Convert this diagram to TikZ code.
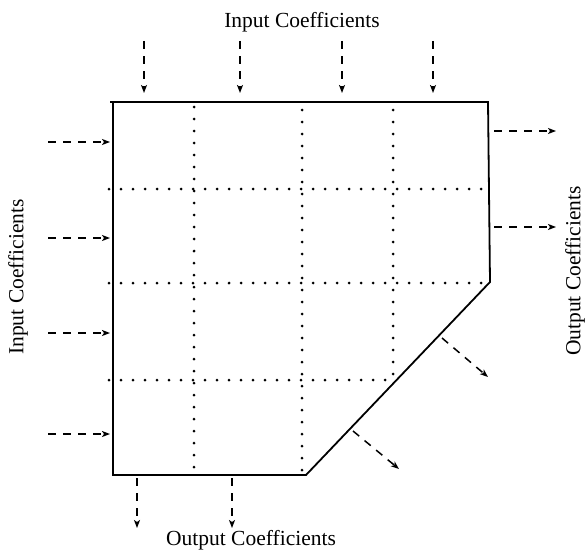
\documentclass[tikz,border=0pt]{standalone}
\usepackage{fontspec}
\setmainfont{Liberation Serif}
\usetikzlibrary{arrows.meta}
\begin{document}
\begin{tikzpicture}[x=1pt,y=-1pt,
  outline/.style={line width=1.8pt,line join=miter},
  gridline/.style={line width=3pt,line cap=round,dash pattern=on 0pt off 12pt},
  flow/.style={line width=1.5pt,dash pattern=on 8pt off 7pt,
    -{Stealth[length=8pt,width=6pt,inset=2pt]}},
  caption/.style={font=\fontsize{21.5}{25}\selectfont,inner sep=0pt}]
\useasboundingbox (0,0) rectangle (588,551);

% corners of the array
\coordinate (tl) at (113,102);
\coordinate (tr) at (488,102);
\coordinate (rc) at (490,282);
\coordinate (bc) at (306,475);
\coordinate (bl) at (113,475);

% internal cell boundaries
\draw[gridline] (194,107) -- (194,477);
\draw[gridline] (302,110) -- (302,477);
\draw[gridline] (393,110) -- (393,380);
\draw[gridline] (109,189) -- (490,189);
\draw[gridline] (109,283) -- (490,283);
\draw[gridline] (109,380) -- (396,380);

% array outline
\draw[outline] (110,102) -- (tr) -- (rc) -- (bc) -- (bl) -- (tl);

% input coefficients from the top
\foreach \x [count=\i] in {144,240,342,433}{
  \coordinate (ti\i) at (\x,41);
  \coordinate (to\i) at (\x,93);
  \draw[flow] (ti\i) -- (to\i);
}
% input coefficients from the left
\foreach \y [count=\i] in {142,238,333,434}{
  \coordinate (li\i) at (48,\y);
  \coordinate (lo\i) at (110,\y);
  \draw[flow] (li\i) -- (lo\i);
}
% output coefficients to the right
\foreach \y [count=\i] in {131,227}{
  \coordinate (ri\i) at (494,\y);
  \coordinate (ro\i) at (556,\y);
  \draw[flow] (ri\i) -- (ro\i);
}
% output coefficients across the slanted edge
\coordinate (di1) at (442,338);
\coordinate (do1) at (488,377);
\coordinate (di2) at (353,431);
\coordinate (do2) at (399,469);
\draw[flow] (di1) -- (do1);
\draw[flow] (di2) -- (do2);
% output coefficients at the bottom
\foreach \x [count=\i] in {137,232}{
  \coordinate (bi\i) at (\x,478);
  \coordinate (bo\i) at (\x,528);
  \draw[flow] (bi\i) -- (bo\i);
}

% captions
\node[caption] (intop) at (302,22) {Input Coefficients};
\node[caption,rotate=90] (inleft) at (18,277) {Input Coefficients};
\node[caption,rotate=90] (outright) at (575,271) {Output Coefficients};
\node[caption] (outbottom) at (251,540) {Output Coefficients};
\end{tikzpicture}
\end{document}
